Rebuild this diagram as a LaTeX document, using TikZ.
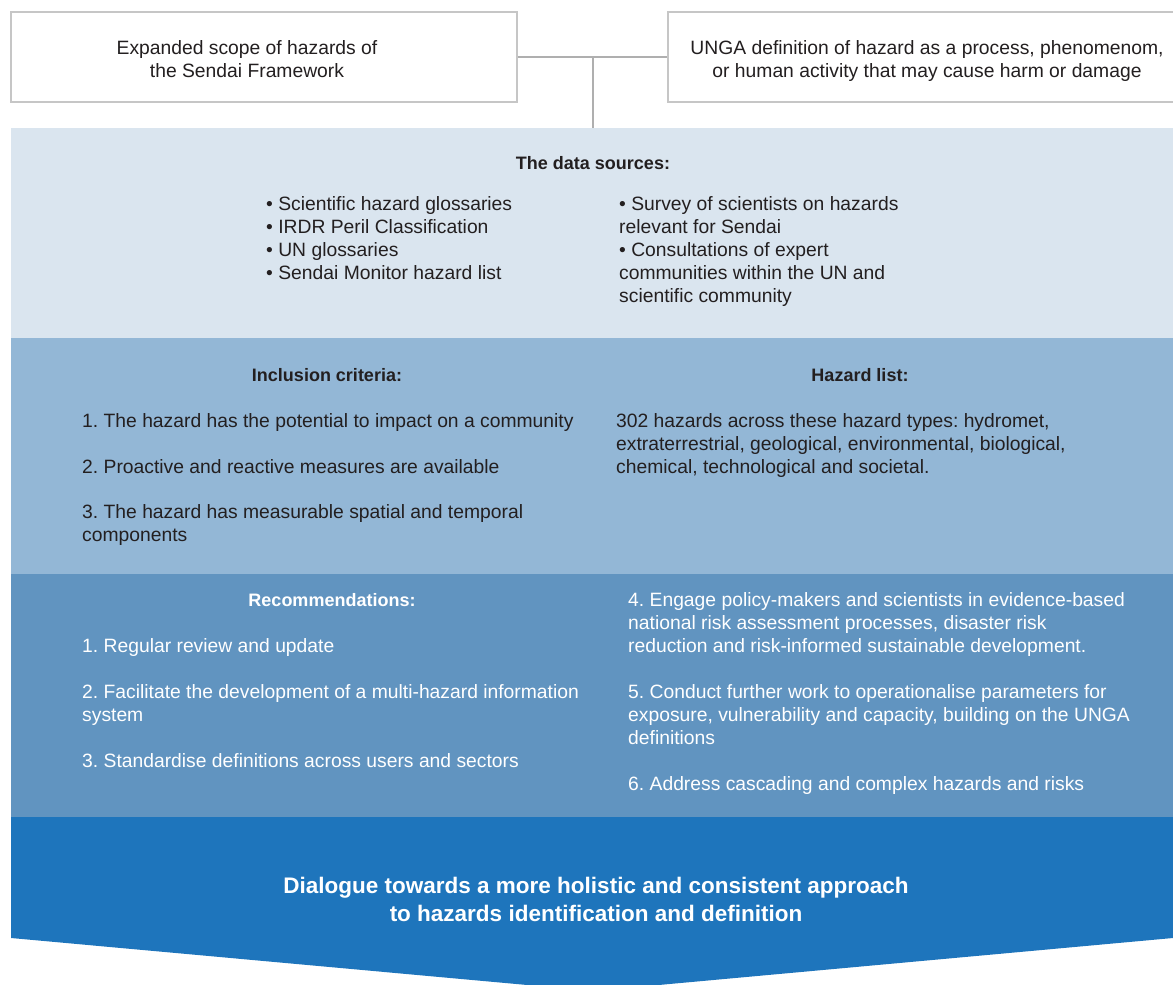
\documentclass[tikz,border=0pt]{standalone}
\usepackage{fontspec}
\setmainfont{Liberation Sans}
\usetikzlibrary{positioning}
\definecolor{bandA}{HTML}{DAE5EF}
\definecolor{bandB}{HTML}{93B7D6}
\definecolor{bandC}{HTML}{6194C0}
\definecolor{bandD}{HTML}{1E75BC}
\definecolor{ink}{HTML}{231F20}
\definecolor{frame}{HTML}{C6C6C6}
\definecolor{wire}{HTML}{AFAFAF}
\frenchspacing
\begin{document}
\begin{tikzpicture}[x=1pt,y=-1pt,
    txt/.style={font=\fontsize{19.3}{23}\selectfont,text=ink,inner sep=0pt,align=left,anchor=base west},
    lite/.style={txt,text=white},
    head/.style={txt,font=\fontsize{18}{23}\selectfont\bfseries,anchor=base},
    topbox/.style={draw=frame,line width=1.5pt,fill=white,minimum width=506pt,minimum height=90pt,inner sep=0pt},
    band/.style={inner sep=0pt,minimum width=1162pt,anchor=north west}]
  \useasboundingbox (0,0) rectangle (1173,985);
  % The bands (multi-line nodes sit on the baseline of their last line)
  \foreach \name/\top/\high/\col in {sources/128/210/bandA,criteria/338/236/bandB,recs/574/243/bandC}
    \node[band,fill=\col,minimum height=\high pt] (\name) at (11,\top) {};
  \fill[bandD] (11,817) -- (1173,817) -- (1173,938) -- (593,991) -- (11,938) -- cycle;
  % The boxes on top
  \node[topbox] (scope) at (264,57) {};
  \node[topbox] (unga) at (921,57) {};
  \node[txt,anchor=base,align=center] (scopetxt) at (247,77.5) {Expanded scope of hazards of\\the Sendai Framework};
  \node[txt,anchor=base,align=center] (ungatxt) at (927,77.5) {UNGA definition of hazard as a process, phenomenom,\\or human activity that may cause harm or damage};
  % The connectors
  \coordinate (joint) at (593,57);
  \draw[wire,line width=1.3pt] (scope.east) -- (unga.west);
  \draw[wire,line width=1.3pt] (joint) -- (joint |- sources.north);
  % The data sources
  \node[head] (srchead) at (593,169) {The data sources:};
  \node[txt] (srcleft) at (266,279.5) {• Scientific hazard glossaries\\• IRDR Peril Classification\\• UN glossaries\\• Sendai Monitor hazard list};
  \node[txt] (srcright) at (619,302.5) {• Survey of scientists on hazards\\relevant for Sendai\\• Consultations of expert\\communities within the UN and\\scientific community};
  % Inclusion criteria and hazard list
  \node[head] (crithead) at (327,381) {Inclusion criteria:};
  \node[txt] (crit1) at (82,427) {1. The hazard has the potential to impact on a community};
  \node[txt] (crit2) at (82,473) {2. Proactive and reactive measures are available};
  \node[txt] (crit3) at (82,541.5) {3. The hazard has measurable spatial and temporal\\components};
  \node[head] (listhead) at (860,381) {Hazard list:};
  \node[txt] (list) at (616,473) {302 hazards across these hazard types: hydromet,\\extraterrestrial, geological, environmental, biological,\\chemical, technological and societal.};
  % Recommendations
  \node[head,text=white] (rechead) at (332,606) {Recommendations:};
  \node[lite] (rec1) at (82,652) {1. Regular review and update};
  \node[lite] (rec2) at (82,721) {2. Facilitate the development of a multi-hazard information\\system};
  \node[lite] (rec3) at (82,767) {3. Standardise definitions across users and sectors};
  \node[lite] (rec4) at (628,652) {4. Engage policy-makers and scientists in evidence-based\\national risk assessment processes, disaster risk\\reduction and risk-informed sustainable development.};
  \node[lite] (rec5) at (628,744) {5. Conduct further work to operationalise parameters for\\exposure, vulnerability and capacity, building on the UNGA\\definitions};
  \node[lite] (rec6) at (628,790) {6. Address cascading and complex hazards and risks};
  % The arrow
  \node[lite,anchor=base,align=center,font=\fontsize{22.5}{28}\selectfont\bfseries] (dialogue) at (596,921) {Dialogue towards a more holistic and consistent approach\\to hazards identification and definition};
\end{tikzpicture}
\end{document}
